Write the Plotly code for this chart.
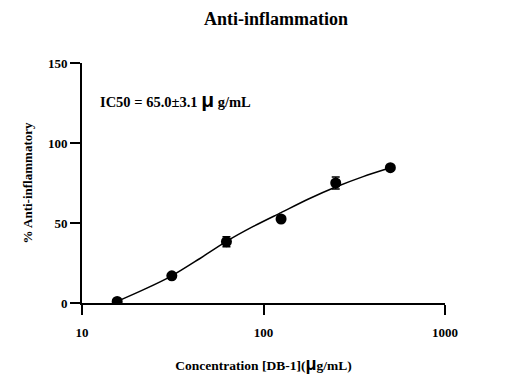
import plotly.graph_objects as go

# Measured data
conc = [15.625, 31.25, 62.5, 125, 250, 500]
inhibition = [1.0, 17.0, 38.3, 52.5, 75.0, 84.6]
sem = [1.0, 1.2, 3.1, 1.5, 3.8, 1.0]

# Fitted curve
curve_x = [15.625, 22, 31.25, 44.2, 62.5, 88.4, 125, 177, 250, 354, 500]
curve_y = [1.0, 8.5, 17.0, 27.5, 38.5, 48.0, 56.5, 65.0, 72.5, 79.0, 84.5]

x_ticks = [10, 100, 1000]
y_ticks = [0, 50, 100, 150]

SERIF = "Liberation Serif"
fig = go.Figure()
fig.add_trace(go.Scatter(x=curve_x, y=curve_y, mode="lines",
                         line=dict(color="black", width=1.5, shape="spline", smoothing=0.8),
                         hoverinfo="skip", showlegend=False))
fig.add_trace(go.Scatter(x=conc, y=inhibition, mode="markers",
                         marker=dict(color="black", size=11),
                         error_y=dict(type="data", array=sem, color="black",
                                      thickness=1.5, width=4),
                         showlegend=False))

axis_font = dict(family=SERIF, size=13, color="black", weight="bold")
fig.update_layout(
    width=512, height=391,
    margin=dict(l=82, r=67, t=63, b=87.5),
    plot_bgcolor="white", paper_bgcolor="white",
    title=dict(text="<b>Anti-inflammation</b>", x=276/512, xanchor="center",
               y=1-19/391, yanchor="middle",
               font=dict(family=SERIF, size=18, color="black")),
    xaxis=dict(type="log", range=[1, 3], tickvals=x_ticks,
               ticktext=[str(v) for v in x_ticks],
               showgrid=False, zeroline=False, showline=True,
               linecolor="black", linewidth=2,
               ticks="outside", ticklen=10, tickwidth=2, tickcolor="black",
               ticklabelstandoff=6,
               tickfont=axis_font,
               title=dict(text="<b>Concentration [DB-1](</b><span style=\"font-family:'Liberation Sans';font-size:18px\"><b>μ</b></span><b>g/mL)</b>",
                          font=dict(family=SERIF, size=13.5, color="black"),
                          standoff=22)),
    yaxis=dict(range=[0, 150], tickvals=y_ticks,
               showgrid=False, zeroline=False, showline=True,
               linecolor="black", linewidth=2,
               ticks="outside", ticklen=10, tickwidth=2, tickcolor="black",
               tickfont=axis_font,
               title=dict(text="<b>% Anti-inflammatory</b>",
                          font=dict(family=SERIF, size=13, color="black"),
                          standoff=12)),
    annotations=[dict(
        x=0.045, y=0.846, xref="paper", yref="paper",
        xanchor="left", yanchor="middle", showarrow=False,
        text="<b>IC50 = 65.0±3.1 </b><span style=\"font-family:'Liberation Sans';font-size:21px\"><b>μ</b></span><b> g/mL</b>",
        font=dict(family=SERIF, size=14.5, color="black"))],
)
fig.write_html("out.html", config={"displayModeBar": False},
               post_script="document.body.style.margin='0';")
